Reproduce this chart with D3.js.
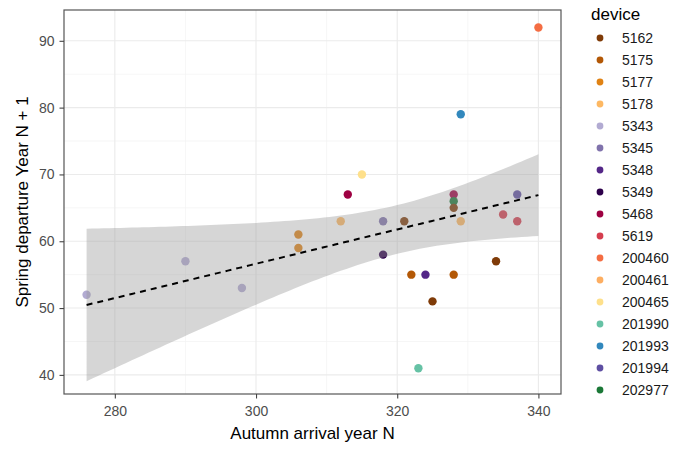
<!DOCTYPE html>
<html>
<head>
<meta charset="utf-8">
<script src="https://cdn.jsdelivr.net/npm/d3@7"></script>
<style>
  body { margin: 0; background: #fff; }
  svg { font-family: "Liberation Sans", Arial, sans-serif; }
</style>
</head>
<body>
<svg id="chart" width="675" height="450"></svg>
<script>
// device levels and their colours (legend order)
const devices = ["5162", "5175", "5177", "5178", "5343", "5345", "5348", "5349", "5468",
  "5619", "200460", "200461", "200465", "201990", "201993", "201994", "202977"];
const deviceColors = ["#7f3b08", "#b35806", "#e08214", "#fdb863", "#b2abd2", "#8073ac", "#542788", "#2d004b", "#9e0142",
  "#d53e4f", "#f46d43", "#fdae61", "#fee08b", "#66c2a5", "#3288bd", "#5e4fa2", "#1b7837"];

// observations: autumn arrival (year N), spring departure (year N+1), device
const arrival = [276, 290, 298, 306, 306, 312, 313, 315, 318, 318, 321, 322, 323,
  324, 325, 328, 328, 328, 328, 329, 329, 334, 335, 337, 337, 340];
const departure = [52, 57, 53, 61, 59, 63, 67, 70, 63, 58, 63, 55, 41,
  55, 51, 67, 66, 65, 55, 79, 63, 57, 64, 63, 67, 92];
const device = ["5343", "5343", "5343", "5177", "5177", "5178", "5468", "200465", "5345", "5349", "5162", "5175", "201990",
  "5348", "5162", "5468", "202977", "5162", "5175", "201993", "5178", "5162", "5619", "5619", "201994", "200460"];

const xTicks = [280, 300, 320, 340];
const yTicks = [40, 50, 60, 70, 80, 90];

const panel = { left: 64, right: 561, top: 10, bottom: 394 };

const svg = d3.select("#chart");

const x = d3.scaleLinear().domain([272.8, 343.2]).range([panel.left, panel.right]);
const y = d3.scaleLinear().domain([37.14, 94.61]).range([panel.bottom, panel.top]);
const color = d3.scaleOrdinal().domain(devices).range(deviceColors);

// linear model with 95% confidence band (like geom_smooth(method = "lm"))
const n = arrival.length;
const mx = d3.mean(arrival), my = d3.mean(departure);
const sxx = d3.sum(arrival, v => (v - mx) ** 2);
const sxy = d3.sum(arrival, (v, i) => (v - mx) * (departure[i] - my));
const slope = sxy / sxx;
const intercept = my - slope * mx;
const rss = d3.sum(arrival, (v, i) => (departure[i] - (intercept + slope * v)) ** 2);
const sigma = Math.sqrt(rss / (n - 2));
const tq = 2.0639; // t(0.975, df = 24)
const [xmin, xmax] = d3.extent(arrival);
const band = d3.range(0, 81).map(k => {
  const xv = xmin + (xmax - xmin) * k / 80;
  const fit = intercept + slope * xv;
  const se = sigma * Math.sqrt(1 / n + (xv - mx) ** 2 / sxx);
  return { x: xv, fit: fit, lo: fit - tq * se, hi: fit + tq * se };
});

// grid lines
const grid = svg.append("g");
const xMinor = [290, 310, 330];
const yMinor = [45, 55, 65, 75, 85];
grid.selectAll(".xm").data(xMinor).enter().append("line")
  .attr("x1", d => x(d)).attr("x2", d => x(d))
  .attr("y1", panel.top).attr("y2", panel.bottom)
  .attr("stroke", "#f2f2f2").attr("stroke-width", 0.7);
grid.selectAll(".ym").data(yMinor).enter().append("line")
  .attr("x1", panel.left).attr("x2", panel.right)
  .attr("y1", d => y(d)).attr("y2", d => y(d))
  .attr("stroke", "#f2f2f2").attr("stroke-width", 0.7);
grid.selectAll(".xM").data(xTicks).enter().append("line")
  .attr("x1", d => x(d)).attr("x2", d => x(d))
  .attr("y1", panel.top).attr("y2", panel.bottom)
  .attr("stroke", "#ebebeb").attr("stroke-width", 1.1);
grid.selectAll(".yM").data(yTicks).enter().append("line")
  .attr("x1", panel.left).attr("x2", panel.right)
  .attr("y1", d => y(d)).attr("y2", d => y(d))
  .attr("stroke", "#ebebeb").attr("stroke-width", 1.1);

// points
svg.append("g").selectAll("circle")
  .data(arrival.map((v, i) => ({ x: v, y: departure[i], device: device[i] })))
  .enter().append("circle")
  .attr("cx", d => x(d.x))
  .attr("cy", d => y(d.y))
  .attr("r", 4.2)
  .attr("fill", d => color(d.device));

// ribbon on top of the points
svg.append("path")
  .datum(band)
  .attr("d", d3.area().x(d => x(d.x)).y0(d => y(d.lo)).y1(d => y(d.hi)))
  .attr("fill", "#999999")
  .attr("fill-opacity", 0.4);

// fitted line
svg.append("path")
  .datum(band)
  .attr("d", d3.line().x(d => x(d.x)).y(d => y(d.fit)))
  .attr("fill", "none")
  .attr("stroke", "#000")
  .attr("stroke-width", 2)
  .attr("stroke-dasharray", "6,5");

// panel border
svg.append("rect")
  .attr("x", panel.left).attr("y", panel.top)
  .attr("width", panel.right - panel.left).attr("height", panel.bottom - panel.top)
  .attr("fill", "none").attr("stroke", "#555").attr("stroke-width", 1.2);

// axes
const xAxis = svg.append("g")
  .attr("transform", `translate(0,${panel.bottom})`)
  .call(d3.axisBottom(x).tickValues(xTicks).tickSize(4.5).tickPadding(8));
const yAxis = svg.append("g")
  .attr("transform", `translate(${panel.left},0)`)
  .call(d3.axisLeft(y).tickValues(yTicks).tickSize(4.5).tickPadding(5));
[xAxis, yAxis].forEach(a => {
  a.select(".domain").remove();
  a.selectAll(".tick line").attr("stroke", "#444").attr("stroke-width", 1.1);
  a.selectAll(".tick text").attr("fill", "#4d4d4d").style("font-size", "14px")
    .style("font-family", "Liberation Sans, Arial, sans-serif");
});

// axis titles
svg.append("text")
  .attr("x", (panel.left + panel.right) / 2)
  .attr("y", 439)
  .attr("text-anchor", "middle")
  .style("font-size", "17px")
  .text("Autumn arrival year N");
svg.append("text")
  .attr("transform", `translate(28,${(panel.top + panel.bottom) / 2}) rotate(-90)`)
  .attr("text-anchor", "middle")
  .style("font-size", "17px")
  .text("Spring departure Year N + 1");

// legend
const legend = svg.append("g").attr("transform", "translate(591,0)");
legend.append("text")
  .attr("x", 0).attr("y", 20)
  .style("font-size", "17px")
  .text("device");
const item = legend.selectAll(".item").data(devices).enter().append("g")
  .attr("transform", (d, i) => `translate(0,${38 + i * 22})`);
item.append("circle")
  .attr("cx", 9).attr("cy", 0).attr("r", 3.4)
  .attr("fill", d => color(d));
item.append("text")
  .attr("x", 31).attr("y", 0)
  .attr("dy", "0.35em")
  .style("font-size", "14px")
  .attr("fill", "#1a1a1a")
  .text(d => d);
</script>
</body>
</html>
